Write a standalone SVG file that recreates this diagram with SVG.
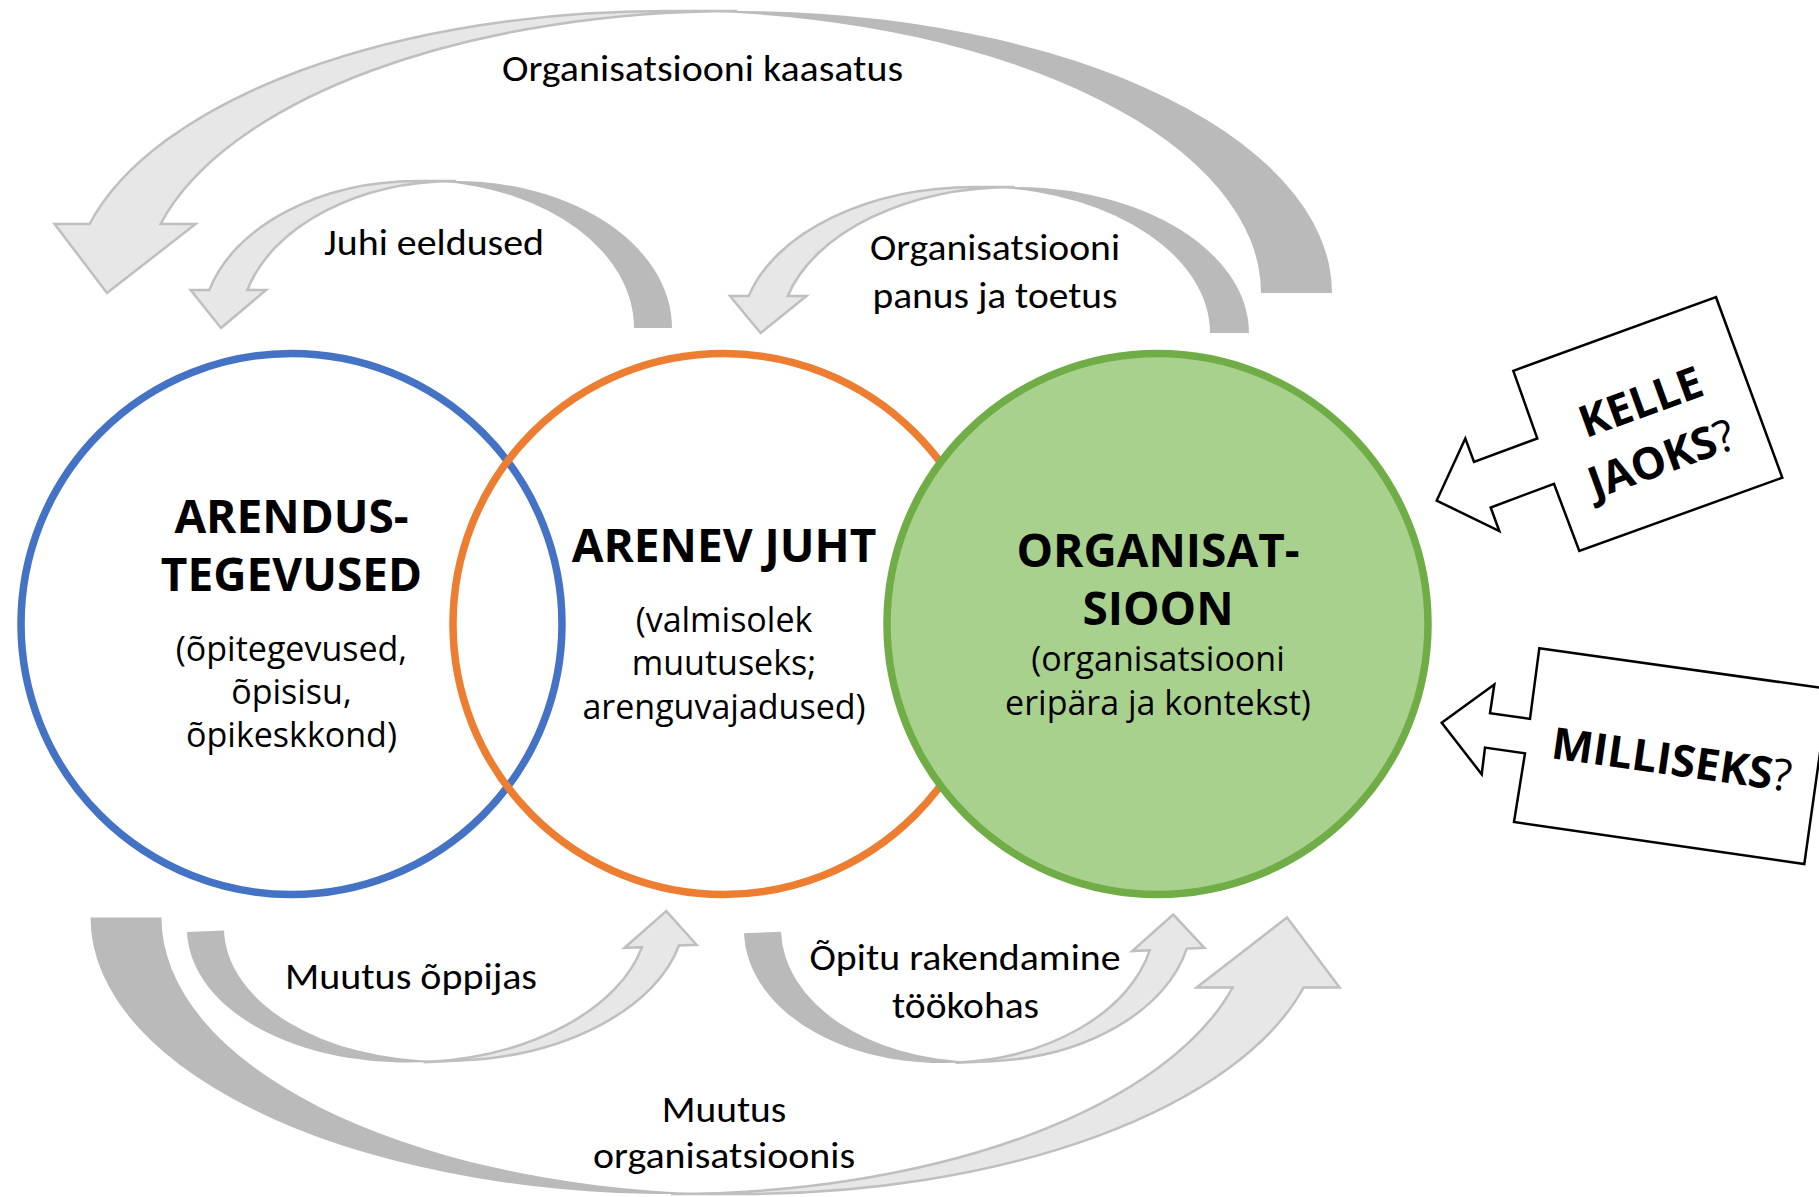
<svg xmlns="http://www.w3.org/2000/svg" width="1819" height="1197" viewBox="0 0 1819 1197">
<style>
.lt{fill:#E7E7E7;stroke:#BFBFBF;stroke-width:2.5;stroke-linejoin:miter}
.dk{fill:#BABABA;stroke:none}
.lbl{font-family:Calibri,Carlito,Lato,'Open Sans',sans-serif;font-size:36px;fill:#000;text-anchor:middle}
.ttl{font-family:'Segoe UI','Open Sans',sans-serif;font-weight:700;font-size:46px;fill:#000;text-anchor:middle}
.sub{font-family:'Segoe UI','Open Sans',sans-serif;font-size:34px;fill:#000;text-anchor:middle}
.co{fill:#fff;stroke:#000;stroke-width:2.5;stroke-linejoin:miter}
.cot{font-family:'Segoe UI','Open Sans',sans-serif;font-weight:700;font-size:44px;fill:#000;text-anchor:middle}
.q{font-weight:400}
.ring{stroke-width:7.5}
</style>
<rect width="1819" height="1197" fill="#fff"/>

<g id="connectors">
  <g id="arrow-kaasatus">
    <g transform="translate(1332,11) scale(-1,1)">
      <path class="dk" d="M0,282 A594.75,282 0 0 1 630.25,0.5 A594.75,282 0 0 0 71,282 Z"/>
      <path class="lt" d="M1225,282 L1136.42,213 L1171.42,213 A594.75,282 0 0 0 594.75,0 L665.75,0 A594.75,282 0 0 1 1242.42,213 L1277.42,213 Z"/>
    </g>
    <text class="lbl" x="702.5" y="81" textLength="401" lengthAdjust="spacingAndGlyphs">Organisatsiooni kaasatus</text>
  </g>
  <g id="arrow-juhi">
    <g transform="translate(672,181) scale(-1,1)">
      <path class="dk" d="M0,147 A216,147 0 0 1 235,0.57 A216,147 0 0 0 38,147 Z"/>
      <path class="lt" d="M451,147 L405.91,109 L424.66,109 A216,147 0 0 0 216,0 L254,0 A216,147 0 0 1 462.66,109 L481.41,109 Z"/>
    </g>
    <text class="lbl" x="434" y="255" textLength="220" lengthAdjust="spacingAndGlyphs">Juhi eeldused</text>
  </g>
  <g id="arrow-panus">
    <g transform="translate(1249,187) scale(-1,1)">
      <path class="dk" d="M0,146 A234.45,146 0 0 1 253.95,0.51 A234.45,146 0 0 0 39,146 Z"/>
      <path class="lt" d="M488.4,146 L442.5,109 L461.25,109 A234.45,146 0 0 0 234.45,0 L273.45,0 A234.45,146 0 0 1 500.25,109 L519,109 Z"/>
    </g>
    <text class="lbl" x="995" y="260" textLength="250" lengthAdjust="spacingAndGlyphs">Organisatsiooni</text>
    <text class="lbl" x="995" y="308" textLength="245" lengthAdjust="spacingAndGlyphs">panus ja toetus</text>
  </g>
  <g id="arrow-oppijas">
    <g transform="translate(187,932) rotate(-2.5) translate(0,140.4) scale(1,-1)">
      <path class="dk" d="M0,140.4 A230.6,140.4 0 0 1 249.1,0.45 A230.6,140.4 0 0 0 37,140.4 Z"/>
      <path class="lt" d="M479.66,140.4 L436.25,105.4 L453.9,105.4 A230.6,140.4 0 0 0 230.6,0 L267.6,0 A230.6,140.4 0 0 1 490.9,105.4 L508.55,105.4 Z"/>
    </g>
    <text class="lbl" x="411" y="989" textLength="252" lengthAdjust="spacingAndGlyphs">Muutus õppijas</text>
  </g>
  <g id="arrow-rakendamine">
    <g transform="translate(744,933.3) rotate(-2.5) translate(0,138.6) scale(1,-1)">
      <path class="dk" d="M0,138.6 A205.6,138.6 0 0 1 224.1,0.56 A205.6,138.6 0 0 0 37,138.6 Z"/>
      <path class="lt" d="M429.7,138.6 L387.05,104 L404.7,104 A205.6,138.6 0 0 0 205.6,0 L242.6,0 A205.6,138.6 0 0 1 441.7,104 L459.35,104 Z"/>
    </g>
    <text class="lbl" x="965" y="970" textLength="311" lengthAdjust="spacingAndGlyphs">Õpitu rakendamine</text>
    <text class="lbl" x="965.5" y="1018" textLength="147" lengthAdjust="spacingAndGlyphs">töökohas</text>
  </g>
  <g id="arrow-organisatsioonis">
    <g transform="translate(90.5,1194) scale(1,-1)">
      <path class="dk" d="M0,276.5 A580.5,276.5 0 0 1 616,0.52 A580.5,276.5 0 0 0 71,276.5 Z"/>
      <path class="lt" d="M1196.5,276.5 L1106.1,206.5 L1142.1,206.5 A580.5,276.5 0 0 0 580.5,0 L651.5,0 A580.5,276.5 0 0 1 1213.1,206.5 L1249.1,206.5 Z"/>
    </g>
    <text class="lbl" x="724" y="1122" textLength="124.5" lengthAdjust="spacingAndGlyphs">Muutus</text>
    <text class="lbl" x="724" y="1168" textLength="262" lengthAdjust="spacingAndGlyphs">organisatsioonis</text>
  </g>
</g>

<g id="node-arendustegevused">
  <circle class="ring" cx="291.5" cy="624" r="270.5" fill="none" stroke="#4472C4"/>
  <text class="ttl" x="291.5" y="532.5">ARENDUS-</text>
  <text class="ttl" x="291.5" y="591">TEGEVUSED</text>
  <text class="sub" x="291.5" y="661">(õpitegevused,</text>
  <text class="sub" x="291.5" y="704">õpisisu,</text>
  <text class="sub" x="291.5" y="747">õpikeskkond)</text>
</g>

<g id="node-arenev-juht">
  <circle class="ring" cx="723.5" cy="624" r="270.5" fill="none" stroke="#ED7D31"/>
  <text class="ttl" x="724" y="562">ARENEV JUHT</text>
  <text class="sub" x="724" y="632">(valmisolek</text>
  <text class="sub" x="724" y="675">muutuseks;</text>
  <text class="sub" x="724" y="719">arenguvajadused)</text>
</g>

<g id="node-organisatsioon">
  <circle class="ring" cx="1157.5" cy="624" r="270.5" fill="#A9D18E" stroke="#70AD47"/>
  <text class="ttl" x="1158" y="566.5">ORGANISAT-</text>
  <text class="ttl" x="1158" y="625">SIOON</text>
  <text class="sub" x="1158" y="671">(organisatsiooni</text>
  <text class="sub" x="1158" y="715">eripära ja kontekst)</text>
</g>

<g id="node-kelle-jaoks">
  <polygon class="co" points="1513.3,370.8 1716,297.2 1782.3,477.7 1579.3,551 1554,483.8 1490.7,507.5 1499.3,531.1 1436.7,500.6 1465.3,438.4 1474,462 1537.3,438.4"/>
  <text class="cot" transform="translate(1650.9,430) rotate(-20)"><tspan x="0" y="-14.5">KELLE</tspan><tspan x="0" y="46">JAOKS<tspan class="q">?</tspan></tspan></text>
</g>

<g id="node-milliseks">
  <polygon class="co" points="1539.3,648.3 1829,689 1804.3,864 1514,822 1525,753.3 1485,747.6 1481.7,774.3 1441.7,722.7 1494.3,684.6 1490,713.2 1530,718.9"/>
  <text class="cot" transform="translate(1672,759) rotate(8)" x="0" y="16">MILLISEKS<tspan class="q">?</tspan></text>
</g>
</svg>
